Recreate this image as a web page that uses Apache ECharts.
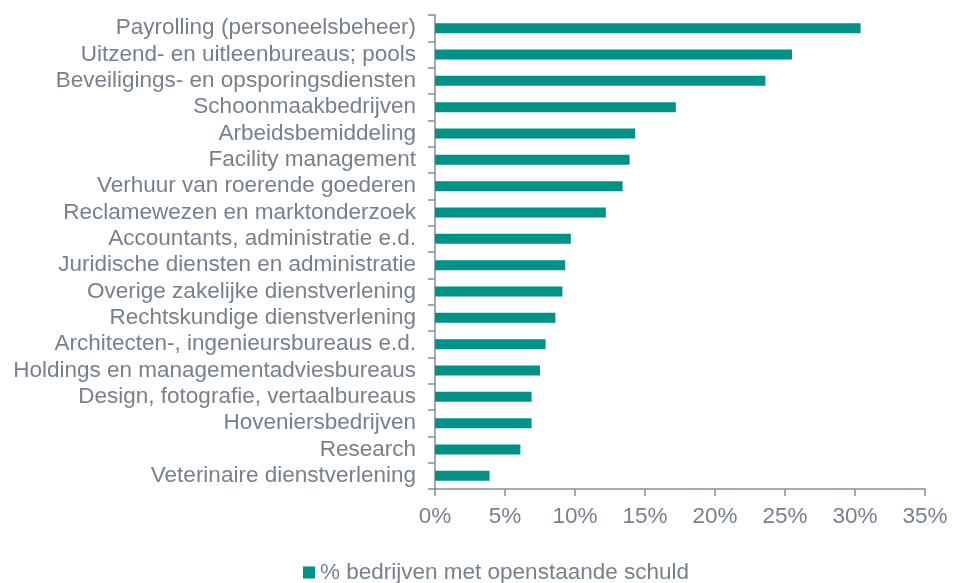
<!DOCTYPE html>
<html><head><meta charset="utf-8">
<script src="https://cdn.jsdelivr.net/npm/echarts@6/dist/echarts.min.js"></script>
<style>html,body{margin:0;padding:0;background:#fff}#c{width:965px;height:583px}</style>
</head><body><div id="c"></div>
<script>
const categories = [
  "Payrolling (personeelsbeheer)",
  "Uitzend- en uitleenbureaus; pools",
  "Beveiligings- en opsporingsdiensten",
  "Schoonmaakbedrijven",
  "Arbeidsbemiddeling",
  "Facility management",
  "Verhuur van roerende goederen",
  "Reclamewezen en marktonderzoek",
  "Accountants, administratie e.d.",
  "Juridische diensten en administratie",
  "Overige zakelijke dienstverlening",
  "Rechtskundige dienstverlening",
  "Architecten-, ingenieursbureaus e.d.",
  "Holdings en managementadviesbureaus",
  "Design, fotografie, vertaalbureaus",
  "Hoveniersbedrijven",
  "Research",
  "Veterinaire dienstverlening"
];
const values = [30.4, 25.5, 23.6, 17.2, 14.3, 13.9, 13.4, 12.2, 9.7, 9.3, 9.1, 8.6, 7.9, 7.5, 6.9, 6.9, 6.1, 3.9];
const seriesName = "% bedrijven met openstaande schuld";

const textColor = "#77818b";
const axisColor = "#858f98";
const fs = 22.5;
const chart = echarts.init(document.getElementById('c'));
chart.setOption({
  animation: false,
  textStyle: {fontFamily: "Liberation Sans, Arial, sans-serif"},
  grid: {left: 435, right: 40, top: 15, bottom: 94, containLabel: false},
  legend: {
    top: 556, left: 298,
    itemWidth: 12, itemHeight: 12, itemGap: 5,
    icon: 'rect',
    textStyle: {color: textColor, fontSize: fs, fontFamily: "Liberation Sans, Arial, sans-serif"},
    data: [seriesName]
  },
  xAxis: {
    type: 'value', min: 0, max: 35, interval: 5,
    axisLine: {show: true, lineStyle: {color: axisColor, width: 1.5}},
    axisTick: {show: true, length: 7, lineStyle: {color: axisColor, width: 1.5}},
    splitLine: {show: false},
    axisLabel: {formatter: '{value}%', color: textColor, fontSize: fs, margin: 16}
  },
  yAxis: {
    type: 'category', data: categories, inverse: true,
    axisLine: {show: true, lineStyle: {color: axisColor, width: 1.5}},
    axisTick: {show: true, length: 7, lineStyle: {color: axisColor, width: 1.5}},
    axisLabel: {color: textColor, fontSize: fs, margin: 19, interval: 0}
  },
  series: [{
    name: seriesName, type: 'bar', data: values,
    barWidth: 10,
    itemStyle: {color: '#009286'}
  }]
});
</script></body></html>
